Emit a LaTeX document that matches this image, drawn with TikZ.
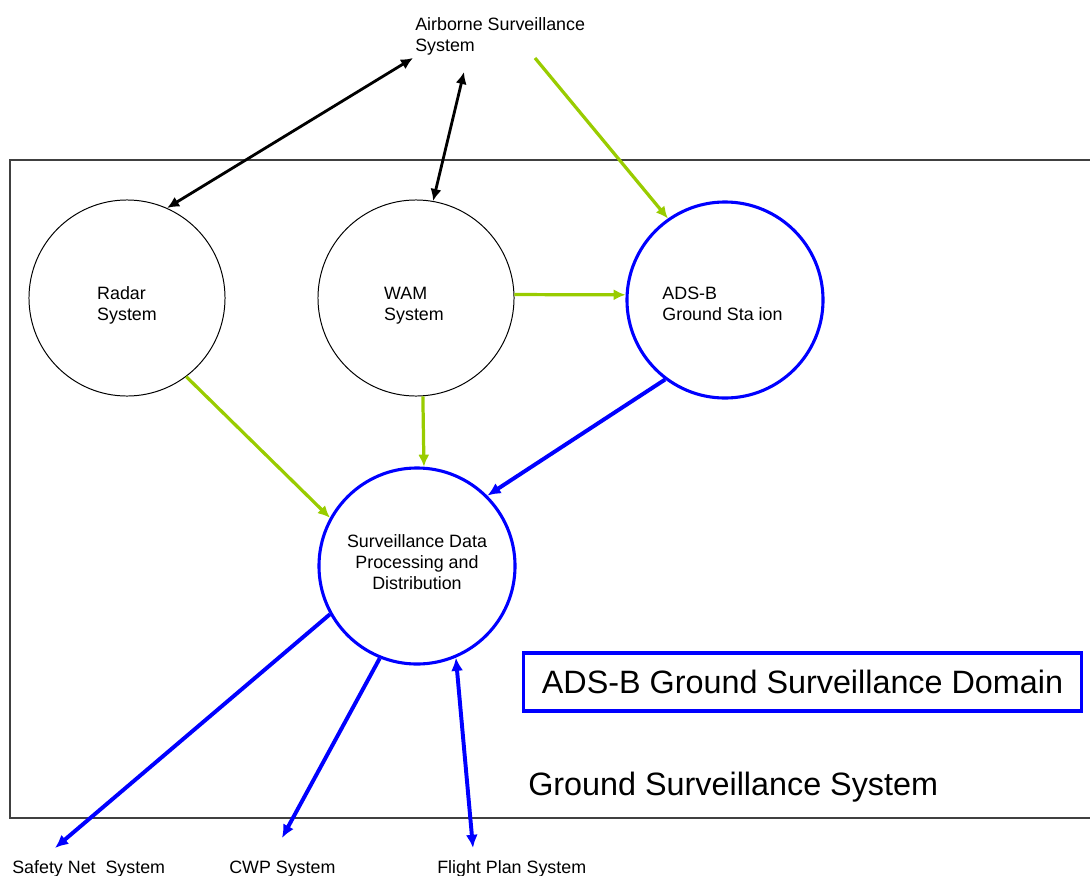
\documentclass[tikz,border=0pt]{standalone}
\usepackage{fontspec}
\setmainfont{Liberation Sans}
\usetikzlibrary{arrows.meta}
\definecolor{feedgreen}{RGB}{153,204,0}
\definecolor{adsblue}{RGB}{0,0,255}
\newcommand{\sysfont}{\fontsize{12.7}{15}\selectfont}
\newcommand{\domainfont}{\fontsize{23}{27}\selectfont}
\tikzstyle{subsystem}=[circle,draw=black,line width=0.7pt,minimum size=4.9cm,inner sep=0pt]
\tikzstyle{adsbsystem}=[subsystem,draw=adsblue,line width=2.2pt]
\tikzstyle{syslabel}=[inner sep=0pt,align=left,font=\sysfont]
\tikzstyle{feed}=[-{Latex[length=3mm,width=2.8mm]},draw=feedgreen,line width=2.3pt]
\tikzstyle{survlink}=[{Latex[length=3mm,width=2.8mm]}-{Latex[length=3mm,width=2.8mm]},black,line width=2pt]
\tikzstyle{output}=[-{Latex[length=3.3mm,width=3mm]},draw=adsblue,line width=2.8pt]
\begin{document}
\begin{tikzpicture}[x=0.025cm,y=-0.025cm]
  \useasboundingbox (0,0) rectangle (1090,875);
  % ground surveillance system frame, open on the right
  \draw[line width=0.9pt,black!75] (1090,160) -| (10,818) -- (1090,818);

  \node[syslabel,anchor=north west] (air) at (415,17) {Airborne Surveillance\\System};
  \node[subsystem] (radar) at (127,298) {};
  \node[subsystem] (wam) at (416,298) {};
  \node[adsbsystem] (ads) at (725,300) {};
  \node[adsbsystem] (sdpd) at (417,566) {};
  \node[syslabel] (radartext) at (127,305.5) {Radar\\System};
  \node[syslabel] (wamtext) at (414,305.5) {WAM\\System};
  \node[syslabel] (adstext) at (722.5,303.5) {ADS-B\\Ground Sta ion};
  \node[syslabel,align=center] (sdpdtext) at (417,562) {Surveillance Data\\Processing and\\Distribution};

  \node[syslabel,anchor=base west] (safety) at (12,873) {Safety Net\ \ System};
  \node[syslabel,anchor=base west] (cwp) at (229,873) {CWP System};
  \node[syslabel,anchor=base west] (fp) at (437,873) {Flight Plan System};

  \node[draw=adsblue,line width=2.5pt,minimum width=13.95cm,minimum height=1.45cm,inner sep=0pt,font=\domainfont] (domain) at (802.5,682) {ADS-B Ground Surveillance Domain};
  \node[anchor=west,inner sep=0pt,font=\domainfont] (gss) at (528,787) {Ground Surveillance System};

  \coordinate (airR) at ([shift={(-2,41)}]air.north west);
  \coordinate (airW) at ([shift={(49,55)}]air.north west);
  \coordinate (airA) at ([shift={(120,41)}]air.north west);
  \coordinate (safetyin) at ([shift={(43,-25)}]safety.base west);
  \coordinate (cwpin) at ([shift={(53,-35)}]cwp.base west);
  \coordinate (fpin) at ([shift={(36,-25)}]fp.base west);

  \draw[survlink] (radar.66) -- (airR);
  \draw[survlink] (wam.80) -- (airW);
  \draw[feed] (airA) -- (ads.125);
  \draw[feed] (wam.2) -- (ads.177);
  \draw[feed] (radar.-53) -- (sdpd.151);
  \draw[feed] (wam.-86) -- (sdpd.86);
  \draw[output] (ads.233) -- (sdpd.45);
  \draw[output] (sdpd.209) -- (safetyin);
  \draw[output] (sdpd.248) -- (cwpin);
  \draw[output,{Latex[length=3.3mm,width=3mm]}-{Latex[length=3.3mm,width=3mm]}] (sdpd.293) -- (fpin);
\end{tikzpicture}
\end{document}
